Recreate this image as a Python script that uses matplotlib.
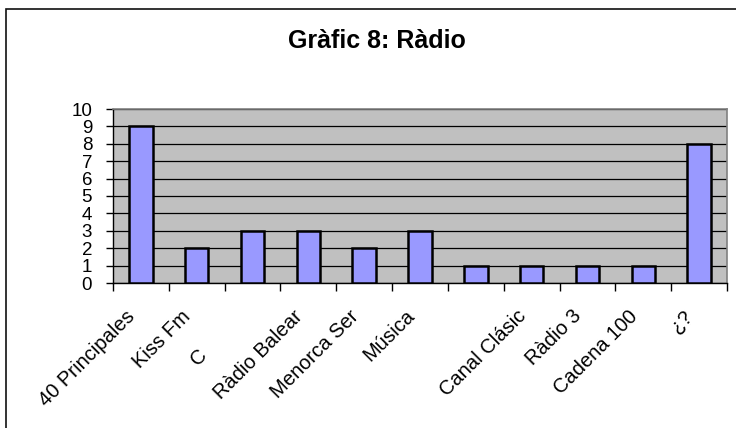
import matplotlib
matplotlib.use("Agg")
import matplotlib.pyplot as plt
import matplotlib.transforms as mtransforms
from matplotlib.patches import Rectangle
import numpy as np

categories = ["40 Principales", "Kiss Fm", "C" + "\u00a0" * 10, "Ràdio Balear", "Menorca Ser",
              "Música", "", "Canal Clásic", "Ràdio 3", "Cadena 100", "¿?"]
values = [9, 2, 3, 3, 2, 3, 1, 1, 1, 1, 8]
title = "Gràfic 8: Ràdio"

plt.rcParams['font.family'] = ['Liberation Sans', 'DejaVu Sans']

W, H = 736, 428
fig = plt.figure(figsize=(W / 100, H / 100), dpi=100)
fig.patch.set_facecolor("white")

# outer chart border
fig.add_artist(Rectangle((6 / W, -0.1), 1.2, 1 - 9 / H + 0.1, transform=fig.transFigure,
                         fill=False, edgecolor="#111111", linewidth=1.2))

ax = fig.add_axes([113 / W, 1 - 283 / H, (727 - 113) / W, (283 - 109) / H])
ax.set_facecolor("#C0C0C0")

x = np.arange(len(categories))
ax.bar(x, values, width=0.42, color="#9999FF", edgecolor="black", linewidth=1.8, zorder=3)

ax.set_xlim(-0.5, len(categories) - 0.5)
ax.set_ylim(0, 10)
ax.set_yticks(range(0, 11))
ax.yaxis.grid(True, color="black", linewidth=0.9, zorder=1)
ax.set_axisbelow(True)

ax.tick_params(axis="y", direction="out", length=5, width=1, pad=10, labelsize=13.5)

# category labels at centres, tick marks at boundaries
ax.set_xticks(x)
ax.set_xticklabels(categories, rotation=45, ha="right", va="top", fontsize=14.5)
ax.tick_params(axis="x", which="major", length=0, pad=17)
ax.set_xticks(np.arange(-0.5, len(categories)), minor=True)
ax.tick_params(axis="x", which="minor", direction="out", length=6, width=1)
offset = mtransforms.ScaledTranslation(-2 / 100, 0, fig.dpi_scale_trans)
for lab in ax.get_xticklabels():
    lab.set_transform(lab.get_transform() + offset)

for s in ["left", "bottom"]:
    ax.spines[s].set_color("black")
    ax.spines[s].set_linewidth(1)
for s in ["top", "right"]:
    ax.spines[s].set_color("#808080")
    ax.spines[s].set_linewidth(1.2)

fig.text(377 / W, 1 - 48 / H, title, ha="center", va="baseline",
         fontsize=18, fontweight="bold")

fig.savefig("out.png", dpi=100)
